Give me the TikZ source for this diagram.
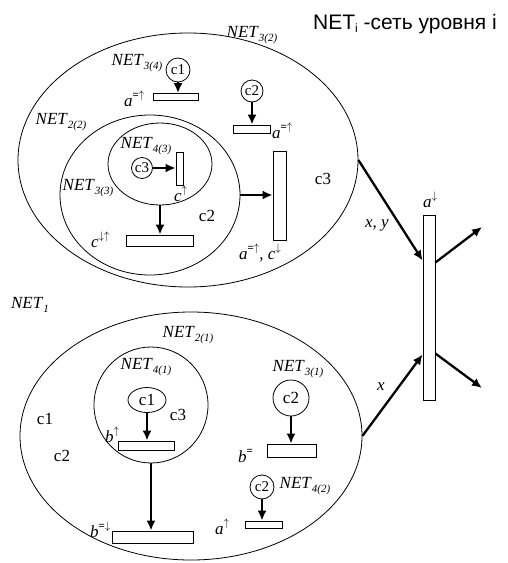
\documentclass[tikz,border=0pt]{standalone}
\usepackage{fontspec}
\setmainfont{Liberation Serif}
\newfontfamily\titlefont{Liberation Sans}
\usetikzlibrary{shapes.geometric,arrows.meta}
\newcommand{\netl}[1]{\textit{NET}\raisebox{-4pt}{\fontsize{11}{11}\selectfont\textit{#1}}}
\newcommand{\supl}[2]{\textit{#1}\raisebox{8pt}{\fontsize{11}{11}\selectfont #2}}
\newcommand{\eqb}{\textbf{=}}
\newcommand{\upa}{$\uparrow$}
\newcommand{\dna}{$\downarrow$}
\begin{document}
\begin{tikzpicture}[x=1pt,y=-1pt,
  netshape/.style={draw, ellipse, line width=0.8pt, inner sep=0pt},
  tok/.style={draw, circle, line width=0.8pt, inner sep=0pt, font=\fontsize{15}{15}\selectfont},
  bar/.style={draw, rectangle, fill=white, line width=0.8pt, inner sep=0pt},
  arr/.style={-{Latex[length=10pt,width=9pt]}, line width=2.3pt},
  lab/.style={inner sep=0pt, font=\fontsize{17}{17}\selectfont},
  slab/.style={inner sep=0pt, anchor=base west, font=\fontsize{17}{17}\selectfont}]
\useasboundingbox (0,0) rectangle (507,563);

% title
\node[inner sep=0pt, anchor=base west] (title) at (313,29)
  {\titlefont\fontsize{21}{21}\selectfont NET\raisebox{-3pt}{\fontsize{12}{12}\selectfont i} -сеть уровня i};

% nets (ellipses)
\node[netshape, minimum width=340pt, minimum height=254pt] (E1) at (188,160) {};
\node[netshape, minimum width=180pt, minimum height=160pt] (E2) at (150,195) {};
\node[netshape, minimum width=104pt, minimum height=82pt] (E3) at (160,164) {};
\node[netshape, minimum width=342pt, minimum height=248pt] (E4) at (191,436) {};
\node[netshape, minimum width=114pt, minimum height=116pt] (E5) at (151,405) {};

% tokens
\node[tok, minimum size=24pt] (t1) at (178,70) {c1};
\node[tok, minimum size=22pt] (t2) at (252,91) {c2};
\node[tok, minimum size=21pt] (t3) at (142,168) {c3};
\node[tok, ellipse, minimum width=38pt, minimum height=25pt, font=\fontsize{17}{17}\selectfont] (t4) at (147,400) {c1};
\node[tok, minimum size=36pt, font=\fontsize{17}{17}\selectfont] (t5) at (291,398) {c2};
\node[tok, minimum size=24pt] (t6) at (262,487) {c2};

% bars (transitions)
\node[bar, minimum width=45pt, minimum height=7pt] (b1) at (175.5,97) {};
\node[bar, minimum width=37pt, minimum height=8pt] (b2) at (251.5,129) {};
\node[bar, minimum width=7pt, minimum height=33pt] (b3) at (179.5,168.5) {};
\node[bar, minimum width=67pt, minimum height=11pt] (b4) at (159.5,240.5) {};
\node[bar, minimum width=13pt, minimum height=89pt] (b5) at (279.5,195.5) {};
\node[bar, minimum width=12pt, minimum height=185pt] (R) at (429,307.5) {};
\node[bar, minimum width=56pt, minimum height=9pt] (b6) at (146,445.5) {};
\node[bar, minimum width=81pt, minimum height=12pt] (b7) at (152.5,537) {};
\node[bar, minimum width=49pt, minimum height=13pt] (b8) at (291.5,450.5) {};
\node[bar, minimum width=37pt, minimum height=7pt] (b9) at (263.5,524.5) {};

\coordinate (o1) at (482,227);
\coordinate (o2) at (482,388);

% connectors
\draw[arr] (t1.south) -- (t1.south |- b1.north);
\draw[arr] (t2.south) -- (t2.south |- b2.north);
\draw[arr] (t3.east) -- (t3.east -| b3.west);
\draw[arr] (E3.south) -- (E3.south |- b4.north);
\draw[arr] (E2.east) -- (E2.east -| b5.west);
\draw[arr] (E1.east) -- ([yshift=47pt]R.west);
\draw[arr] (E4.east) -- ([yshift=-47pt]R.west);
\draw[arr] ([yshift=45pt]R.east) -- (o1);
\draw[arr] ([yshift=-46pt]R.east) -- (o2);
\draw[arr] (t4.south) -- (t4.south |- b6.north);
\draw[arr] (E5.south) -- (E5.south |- b7.north);
\draw[arr] (t5.south) -- (t5.south |- b8.north);
\draw[arr] (t6.south) -- (t6.south |- b9.north);

% net labels
\node[lab] (l34) at (137,63) {\netl{3(4)}};
\node[lab] (l32) at (252,35) {\netl{3(2)}};
\node[lab] (l22) at (61,122) {\netl{2(2)}};
\node[lab] (l43) at (146,146) {\netl{4(3)}};
\node[lab] (l33) at (88,188) {\netl{3(3)}};
\node[lab] (l1) at (30,305) {\netl{1}};
\node[lab] (l21) at (188,335) {\netl{2(1)}};
\node[lab] (l41) at (146,367) {\netl{4(1)}};
\node[lab] (l31) at (298,369) {\netl{3(1)}};
\node[lab] (l42) at (305,486) {\netl{4(2)}};

% variable labels
\node[slab] (v1) at (124,106) {\supl{a}{\eqb\upa}};
\node[slab] (v2) at (272,138) {\supl{a}{\eqb\upa}};
\node[slab] (v3) at (239,259) {\supl{a}{\eqb\upa}, \supl{c}{\dna}};
\node[slab] (v4) at (174,201) {\supl{c}{\upa}};
\node[slab] (v5) at (91,247) {\supl{c}{\dna\upa}};
\node[slab] (v6) at (423,207) {\supl{a}{\dna}};
\node[slab] (v7) at (105,442) {\supl{b}{\upa}};
\node[slab] (v8) at (90,537) {\supl{b}{\eqb\dna}};
\node[slab] (v9) at (238,462) {\supl{b}{\eqb}};
\node[slab] (v10) at (215,534) {\supl{a}{\upa}};

% place labels
\node[lab] (p1) at (207,216) {c2};
\node[lab] (p2) at (323,179) {c3};
\node[lab] (p3) at (45,419) {c1};
\node[lab] (p4) at (62,456) {c2};
\node[lab] (p5) at (178,415) {c3};
\node[lab] (p6) at (377,225) {\textit{x}, \textit{y}};
\node[lab] (p7) at (381,387) {\textit{x}};
\end{tikzpicture}
\end{document}
